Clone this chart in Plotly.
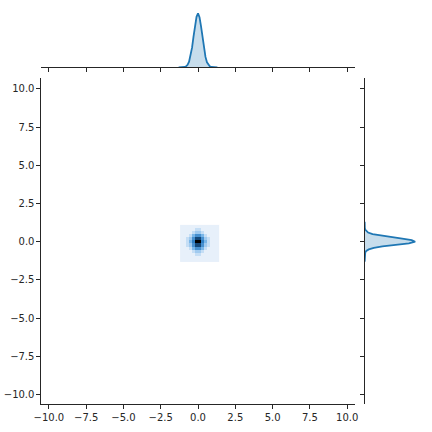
import plotly.graph_objects as go

# 2D histogram counts (rows: y bin centres, cols: x bin centres)
x_bins = [-1.1, -0.9, -0.7, -0.5, -0.3, -0.1, 0.1, 0.3, 0.5, 0.7, 0.9, 1.1, 1.3]
y_bins = [-1.2, -1.0, -0.8, -0.6, -0.4, -0.2, 0.0, 0.2, 0.4, 0.6, 0.8, 1.0]
counts = [
    [0, 0, 0, 0, 0, 0, 0, 0, 0, 0, 0, 0, 0],
    [0, 0, 0, 0, 0, 0, 0, 0, 0, 0, 0, 0, 0],
    [0, 0, 0, 0, 0, 1, 1, 0, 0, 0, 0, 0, 0],
    [0, 0, 0, 0, 1, 2, 2, 1, 0, 0, 0, 0, 0],
    [0, 0, 0, 1, 3, 5, 5, 3, 1, 0, 0, 0, 0],
    [0, 0, 1, 2, 5, 8, 8, 5, 2, 1, 0, 0, 0],
    [0, 0, 1, 3, 6, 10, 10, 6, 3, 1, 0, 0, 0],
    [0, 0, 1, 2, 5, 8, 8, 5, 2, 1, 0, 0, 0],
    [0, 0, 0, 1, 3, 5, 5, 3, 1, 0, 0, 0, 0],
    [0, 0, 0, 0, 1, 2, 2, 1, 0, 0, 0, 0, 0],
    [0, 0, 0, 0, 0, 1, 1, 0, 0, 0, 0, 0, 0],
    [0, 0, 0, 0, 0, 0, 0, 0, 0, 0, 0, 0, 0],
]

# marginal kde curves
kde_pos = [-1.3, -1.2, -1.1, -1.0, -0.9, -0.8, -0.7, -0.6, -0.5, -0.4, -0.3, -0.2, -0.1, 0.0,
           0.1, 0.2, 0.3, 0.4, 0.5, 0.6, 0.7, 0.8, 0.9, 1.0, 1.1, 1.2, 1.3]
kde_x = [0.0, 0.0002, 0.0008, 0.003, 0.009, 0.025, 0.065, 0.145, 0.29, 0.51, 0.80, 1.08, 1.31, 1.40,
         1.30, 1.07, 0.78, 0.49, 0.27, 0.13, 0.058, 0.022, 0.008, 0.0025, 0.0007, 0.0002, 0.0]
kde_y = [0.0, 0.0, 0.0, 0.0005, 0.002, 0.006, 0.018, 0.05, 0.13, 0.29, 0.56, 0.98, 1.40, 1.60,
         1.49, 1.19, 0.82, 0.48, 0.25, 0.11, 0.045, 0.016, 0.005, 0.0015, 0.0004, 0.0, 0.0]

ticks = [-10.0, -7.5, -5.0, -2.5, 0.0, 2.5, 5.0, 7.5, 10.0]
tick_text = [('%.1f' % t).replace('-', '\u2212') for t in ticks]

line_col = '#1f77b4'
fill_col = 'rgba(31,119,180,0.25)'

fig = go.Figure()
fig.add_trace(go.Heatmap(x=x_bins, y=y_bins, z=counts, showscale=False,
    colorscale=[[0, '#e7f0fa'], [0.1, '#c5def5'], [0.3, '#7ab6e8'],
                [0.6, '#2f7fc4'], [0.85, '#0e3c68'], [1, '#000000']],
    xaxis='x', yaxis='y'))
fig.add_trace(go.Scatter(x=kde_pos, y=kde_x, mode='lines', fill='tozeroy',
    line=dict(color=line_col, width=1.8), fillcolor=fill_col, xaxis='x2', yaxis='y2'))
fig.add_trace(go.Scatter(x=kde_y, y=kde_pos, mode='lines', fill='tozerox',
    line=dict(color=line_col, width=1.8), fillcolor=fill_col, xaxis='x3', yaxis='y3'))

axis_style = dict(showgrid=False, zeroline=False, showline=True, linecolor='#262626',
                  linewidth=1, ticks='outside', ticklen=4, tickcolor='#262626',
                  tickfont=dict(family='DejaVu Sans', size=10, color='#262626'),
                  tickvals=ticks, ticktext=tick_text)

fig.update_layout(
    width=432, height=432, margin=dict(l=0, r=0, t=0, b=0),
    paper_bgcolor='white', plot_bgcolor='white', showlegend=False,
    xaxis=dict(domain=[0.0794, 0.8233], anchor='y', range=[-10.5, 10.5], **axis_style),
    yaxis=dict(domain=[0.0641, 0.8188], anchor='x', range=[-10.63, 10.69], **axis_style),
    xaxis2=dict(domain=[0.0794, 0.8233], anchor='y2', range=[-10.5, 10.5],
                showticklabels=False, **axis_style),
    yaxis2=dict(domain=[0.8442, 0.9924], anchor='x2', range=[0, 1.66], visible=False),
    xaxis3=dict(domain=[0.8472, 0.995], anchor='y3', range=[0, 1.97], visible=False),
    yaxis3=dict(domain=[0.0641, 0.8188], anchor='x3', range=[-10.63, 10.69],
                showticklabels=False, **axis_style),
)

fig.write_html("out.html", config={'displayModeBar': False},
               post_script="document.body.style.margin='0';")
